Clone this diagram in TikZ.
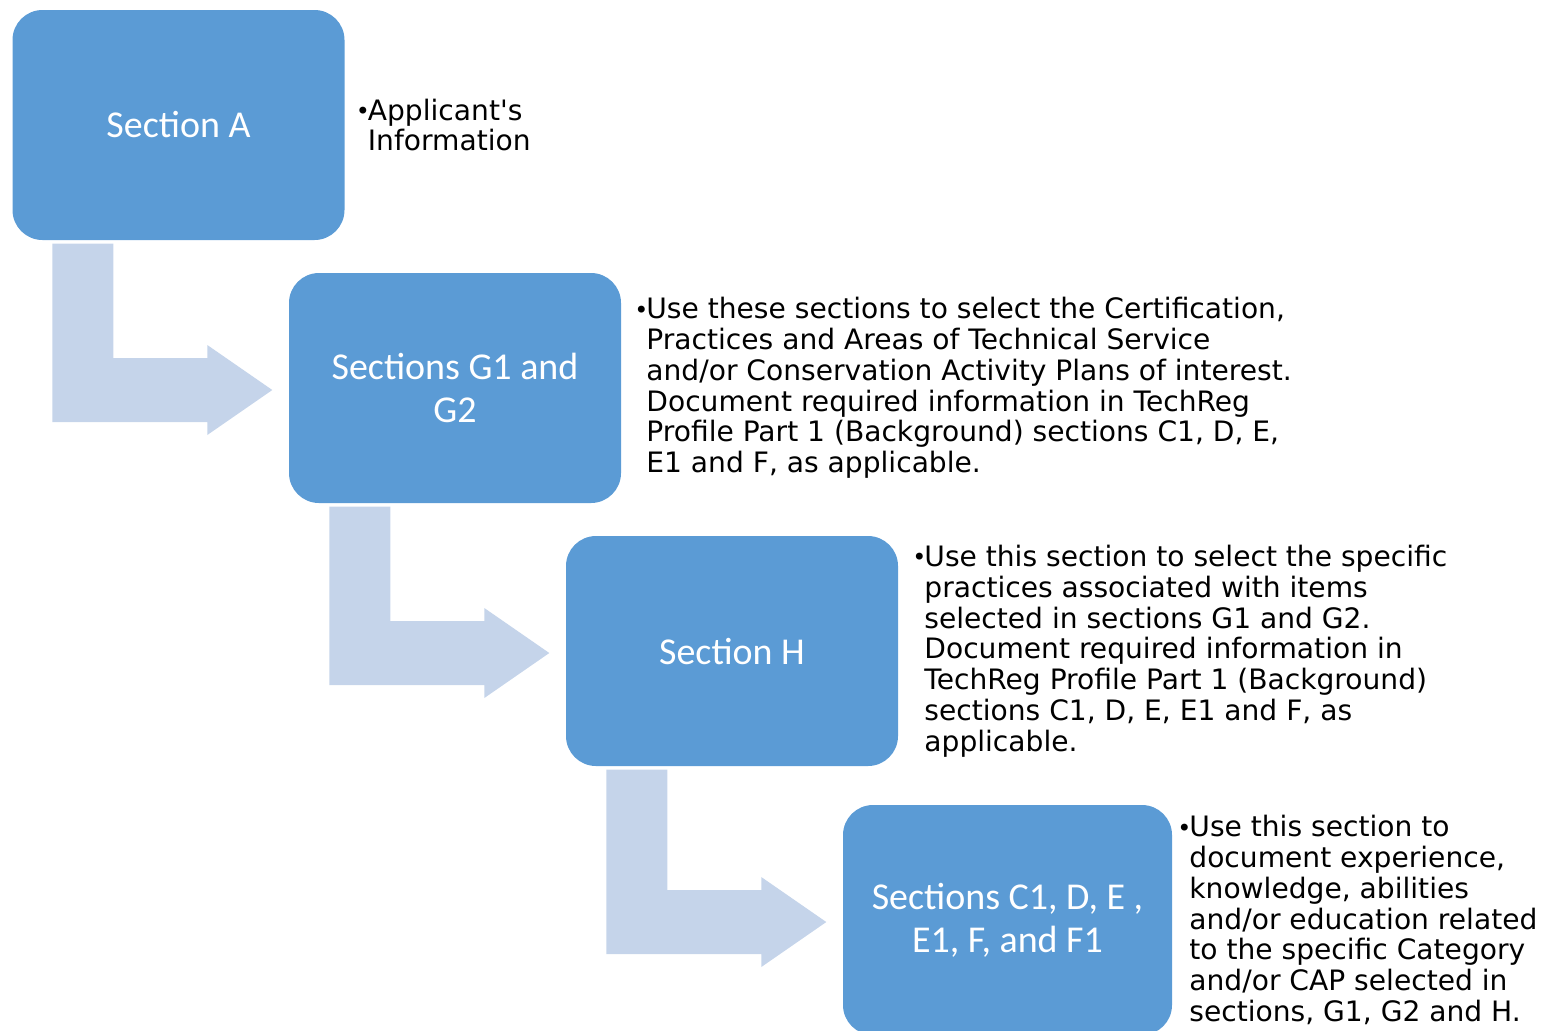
\documentclass[tikz,border=0pt]{standalone}
\usepackage{fontspec}
\newfontfamily\infofont{DejaVu Sans}
\newfontfamily\boxfont{Carlito}
\usetikzlibrary{positioning,calc}

\definecolor{boxblue}{HTML}{5B9BD5}
\definecolor{arrowblue}{HTML}{C5D4EA}

\tikzset{
  secbox/.style={fill=boxblue, rounded corners=0.3cm, minimum width=3.32cm,
    minimum height=2.3cm, align=center, text=white,
    font=\boxfont\fontsize{10.8}{12.2}\selectfont},
  infotext/.style={align=left, inner sep=0pt, anchor=west,
    font=\infofont\fontsize{8}{8.75}\selectfont},
  bendarrow/.style={fill=arrowblue}
}
\newcommand{\bul}{\makebox[0.12cm][l]{\raisebox{0.05ex}{\scalebox{0.85}{•}}}}
\newcommand{\ind}{\hspace*{0.12cm}}

\begin{document}
\begin{tikzpicture}
	\useasboundingbox (0,0) rectangle (15.45,-10.3);

	% section boxes
	\node[secbox] (secA) at (1.785,-1.25) {Section A};
	\node[secbox] (secG) at (4.55,-3.88) {Sections G1 and\\G2};
	\node[secbox] (secH) at (7.32,-6.51) {Section H};
	\node[secbox, minimum width=3.29cm] (secC) at (10.075,-9.2) {Sections C1, D, E ,\\E1, F, and F1};

	% bullet texts
	\node[infotext, right=0.1cm of secA] (txtA) {\bul Applicant's\\\ind Information};
	\node[infotext, right=0.12cm of secG] (txtG) {\bul Use these sections to select the Certification,\\
		\ind Practices and Areas of Technical Service\\
		\ind and/or Conservation Activity Plans of interest.\\
		\ind Document required information in TechReg\\
		\ind Profile Part 1 (Background) sections C1, D, E,\\
		\ind E1 and F, as applicable.};
	\node[infotext, right=0.13cm of secH] (txtH) {\bul Use this section to select the specific\\
		\ind practices associated with items\\
		\ind selected in sections G1 and G2.\\
		\ind Document required information in\\
		\ind TechReg Profile Part 1 (Background)\\
		\ind sections C1, D, E, E1 and F, as\\
		\ind applicable.};
	\node[infotext, right=0.04cm of secC] (txtC) {\bul Use this section to\\
		\ind document experience,\\
		\ind knowledge, abilities\\
		\ind and/or education related\\
		\ind to the specific Category\\
		\ind and/or CAP selected in\\
		\ind sections, G1, G2 and H.};

	% bent arrows between the boxes
	\foreach \src/\dst in {secA/secG, secG/secH, secH/secC} {
		\fill[bendarrow] let \p1=(\src.south), \p2=(\dst.west) in
			(\x2-2.36cm,\y1-0.03cm) -- (\x2-1.75cm,\y1-0.03cm) -- (\x2-1.75cm,\y2+0.30cm)
			-- (\x2-0.81cm,\y2+0.30cm) -- (\x2-0.81cm,\y2+0.43cm) -- (\x2-0.16cm,\y2-0.02cm)
			-- (\x2-0.81cm,\y2-0.47cm) -- (\x2-0.81cm,\y2-0.34cm) -- (\x2-2.36cm,\y2-0.34cm) -- cycle;
	}
\end{tikzpicture}
\end{document}
